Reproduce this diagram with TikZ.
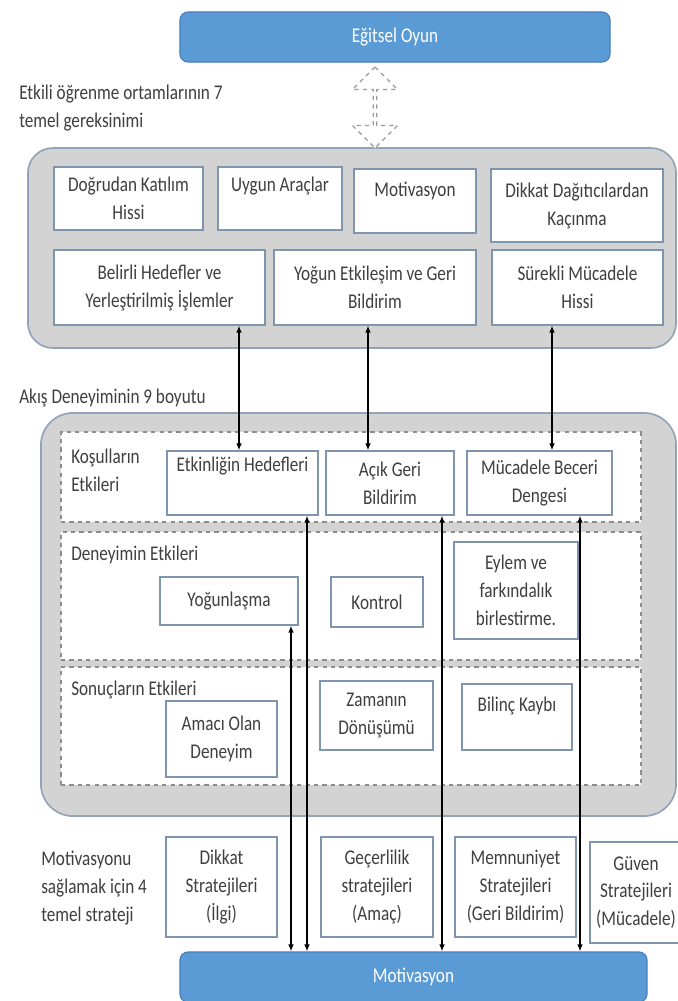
\documentclass[tikz,border=0pt]{standalone}
\usepackage{fontspec}
\setmainfont{Carlito}[FakeStretch=0.82]
\usepackage{xcolor}
\usepackage{tikz}
\usetikzlibrary{arrows.meta,positioning,backgrounds,shapes.arrows}
\definecolor{boxblue}{HTML}{5B9BD5}
\definecolor{boxblueedge}{HTML}{4A7EBB}
\definecolor{grpgray}{HTML}{D3D3D3}
\definecolor{grpedge}{HTML}{93A4BA}
\definecolor{reqedge}{HTML}{7F94AE}
\definecolor{txtgray}{HTML}{3F3F3F}
\newcommand{\boxfont}{\fontsize{14.9}{19.9}\selectfont}
\tikzset{
  sz/.style 2 args={minimum width=#1*0.25mm,minimum height=#2*0.25mm},
  reqnode/.style={rectangle,draw=reqedge,line width=0.8pt,fill=white,inner sep=1pt,align=center,font=\boxfont,text=txtgray},
  bluenode/.style={rectangle,rounded corners=2mm,draw=boxblueedge,line width=0.8pt,fill=boxblue,font=\boxfont,text=white},
  grpbox/.style={rectangle,draw=grpedge,line width=1.2pt,fill=grpgray},
  panelbox/.style={rectangle,draw=black!45,dashed,line width=0.9pt,fill=white},
  txtlbl/.style={anchor=west,align=left,inner sep=0pt,font=\boxfont,text=txtgray},
  biedge/.style={{Latex[length=5pt,width=4pt]}-{Latex[length=5pt,width=4pt]},line width=1pt,black},
  hollowarrow/.style={double arrow,draw=black!40,dashed,line width=0.9pt,fill=white,inner sep=0pt,double arrow head extend=2mm},
}

\begin{document}
\begin{tikzpicture}[x=0.025cm,y=-0.025cm]
  \useasboundingbox (0,0) rectangle (678,1001);
  \clip (0,0) rectangle (678,1001);
  \fill[white] (0,0) rectangle (678,1001);
  % groups
  \node[grpbox,rounded corners=6.25mm,sz={648}{200}] (gReq) at (352,248) {};
  \node[grpbox,rounded corners=8mm,sz={635}{403}] (gFlow) at (358.5,614.5) {};
  \node[panelbox,sz={580}{90}] (pCond) at (351,477) {};
  \node[panelbox,sz={580}{128}] (pExp) at (351,596) {};
  \node[panelbox,sz={580}{118}] (pRes) at (351,726) {};
  % blue nodes
  \node[bluenode,sz={430}{50}] (nEgitsel) at (395,37) {Eğitsel Oyun};
  \node[bluenode,sz={467}{50}] (nMotivasyon) at (413.5,977) {Motivasyon};
  \node[hollowarrow,rotate=90,minimum height=81*0.25mm,minimum width=45*0.25mm] (nLink) at (375,107.5) {};
  % 7 requirements
  \node[reqnode,sz={149}{63}] (nDogrudan) at (128.5,198.5) {Doğrudan Katılım\\Hissi};
  \node[reqnode,sz={124}{63},text depth=7mm] (nUygun) at (280,198.5) {Uygun Araçlar};
  \node[reqnode,sz={122}{64},text depth=5.7mm] (nMotivReq) at (415,201) {Motivasyon};
  \node[reqnode,sz={172}{73}] (nDikkatD) at (577,205.5) {Dikkat Dağıtıcılardan\\Kaçınma};
  \node[reqnode,sz={211}{75}] (nBelirli) at (159.5,287.5) {Belirli Hedefler ve\\Yerleştirilmiş İşlemler};
  \node[reqnode,sz={202}{75}] (nYogun) at (375,287.5) {Yoğun Etkileşim ve Geri\\Bildirim};
  \node[reqnode,sz={171}{75}] (nSurekli) at (577.5,287.5) {Sürekli Mücadele\\Hissi};
  % 9 dimensions
  \node[reqnode,sz={151}{64},text depth=9.2mm] (nEtkinlik) at (242.5,483) {Etkinliğin Hedefleri};
  \node[reqnode,sz={128}{64}] (nAcik) at (390,483) {Açık Geri\\Bildirim};
  \node[reqnode,sz={145}{64}] (nMucBeceri) at (539.5,483) {Mücadele Beceri\\Dengesi};
  \node[reqnode,sz={138}{48}] (nYogunlasma) at (229,601) {Yoğunlaşma};
  \node[reqnode,sz={92}{50}] (nKontrol) at (377,602) {Kontrol};
  \node[reqnode,sz={124}{97}] (nEylem) at (516,590.5) {Eylem ve\\farkındalık\\birlestirme.};
  \node[reqnode,sz={111}{76}] (nAmaci) at (221.5,739) {Amacı Olan\\Deneyim};
  \node[reqnode,sz={113}{69}] (nZaman) at (376.5,715.5) {Zamanın\\Dönüşümü};
  \node[reqnode,sz={110}{66},text depth=6.2mm] (nBilinc) at (517,717) {Bilinç Kaybı};
  % 4 strategies
  \node[reqnode,sz={111}{100}] (nDikkatS) at (221.5,887) {Dikkat\\Stratejileri\\(İlgi)};
  \node[reqnode,sz={112}{100}] (nGecerlilik) at (377,887) {Geçerlilik\\stratejileri\\(Amaç)};
  \node[reqnode,sz={121}{100}] (nMemnuniyet) at (515.5,887) {Memnuniyet\\Stratejileri\\(Geri Bildirim)};
  \node[reqnode,sz={92}{101}] (nGuven) at (636,892.5) {Güven\\Stratejileri\\(Mücadele)};
  % labels
  \node[txtlbl] (lSeven) at (19,108) {Etkili öğrenme ortamlarının 7\\temel gereksinimi};
  \node[txtlbl] (lNine) at (19,398) {Akış Deneyiminin 9 boyutu};
  \node[txtlbl] (lCond) at (71,470) {Koşulların\\Etkileri};
  \node[txtlbl] (lExp) at (71,555) {Deneyimin Etkileri};
  \node[txtlbl] (lRes) at (71,690) {Sonuçların Etkileri};
  \node[txtlbl] (lFour) at (41,888) {Motivasyonu\\sağlamak için 4\\temel strateji};
  % arrows
  \coordinate (xA) at (239,0);
  \coordinate (xB) at (368,0);
  \coordinate (xC) at (552,0);
  \coordinate (xD) at (291,0);
  \coordinate (xE) at (307,0);
  \coordinate (xF) at (442,0);
  \coordinate (xG) at (580,0);
  \draw[biedge] (nBelirli.south -| xA) -- (nEtkinlik.north -| xA);
  \draw[biedge] (nYogun.south -| xB) -- (nAcik.north -| xB);
  \draw[biedge] (nSurekli.south -| xC) -- (nMucBeceri.north -| xC);
  \draw[biedge] (nYogunlasma.south -| xD) -- (nMotivasyon.north -| xD);
  \draw[biedge] (nEtkinlik.south -| xE) -- (nMotivasyon.north -| xE);
  \draw[biedge] (nAcik.south -| xF) -- (nMotivasyon.north -| xF);
  \draw[biedge] (nMucBeceri.south -| xG) -- (nMotivasyon.north -| xG);
\end{tikzpicture}
\end{document}
